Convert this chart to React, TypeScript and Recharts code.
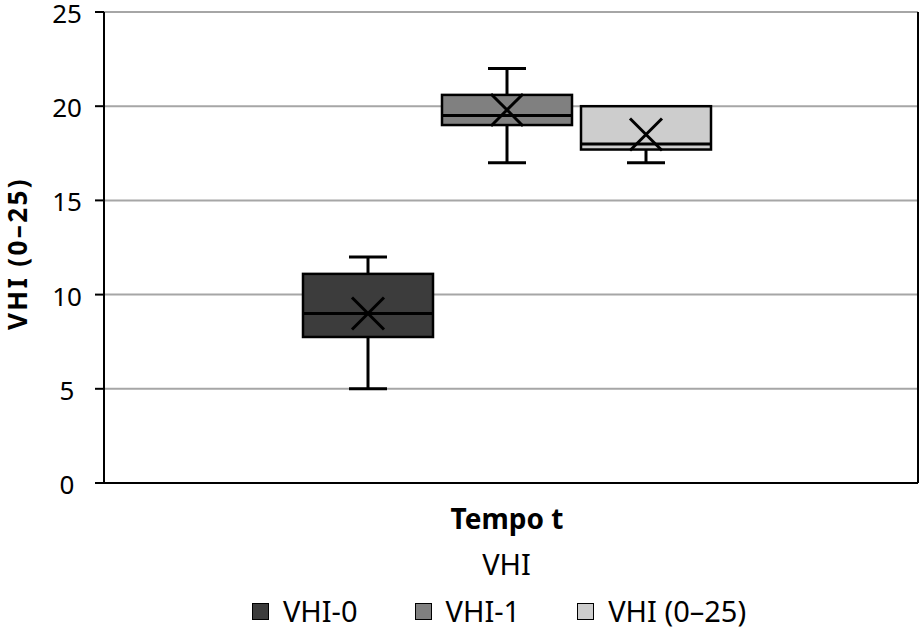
import React from 'react';
import { ComposedChart, Bar, XAxis, YAxis, CartesianGrid, Label } from 'recharts';

// Box plot stats
const seriesNames = ['VHI-0', 'VHI-1', 'VHI (0–25)'];
const mins = [5, 17, 17];
const q1s = [7.75, 19, 17.7];
const medians = [9, 19.5, 18];
const q3s = [11.1, 20.6, 20];
const maxs = [12, 22, 20];
const means = [9, 19.8, 18.5];
const category = 'VHI';
const yTicks = [0, 5, 10, 15, 20, 25];

const colors = ['#3c3c3c', '#808080', '#cdcdcd'];
const FONT = '"Noto Sans", "Open Sans", sans-serif';

// one row, each series is a [min, max] range bar
const data = [
    seriesNames.reduce((row: any, _n, i) => {
        row['s' + i] = [mins[i], maxs[i]];
        return row;
    }, { name: category }),
];

const BoxShape = (props: any) => {
    const { x, y, width, height, idx } = props;
    if (height == null || !isFinite(height)) return null;
    const lo = mins[idx];
    const hi = maxs[idx];
    const bottom = y + height;
    // linear map through the bar geometry the library computed
    const py = (v: number) => bottom - ((v - lo) / (hi - lo)) * height;
    const cx = x + width / 2;
    const cap = 19;
    const xs = 16;
    const mY = py(means[idx]);
    return (
        <g>
            <line x1={cx} x2={cx} y1={py(maxs[idx])} y2={py(q3s[idx])} stroke="#000" strokeWidth={3} />
            <line x1={cx} x2={cx} y1={py(q1s[idx])} y2={py(mins[idx])} stroke="#000" strokeWidth={3} />
            {maxs[idx] > q3s[idx] && (
                <line x1={cx - cap} x2={cx + cap} y1={py(maxs[idx])} y2={py(maxs[idx])} stroke="#000" strokeWidth={3} />
            )}
            <line x1={cx - cap} x2={cx + cap} y1={py(mins[idx])} y2={py(mins[idx])} stroke="#000" strokeWidth={3} />
            <rect
                x={x}
                y={py(q3s[idx])}
                width={width}
                height={py(q1s[idx]) - py(q3s[idx])}
                fill={colors[idx]}
                stroke="#000"
                strokeWidth={2.5}
            />
            <line x1={x} x2={x + width} y1={py(medians[idx])} y2={py(medians[idx])} stroke="#000" strokeWidth={3} />
            <line x1={cx - xs} x2={cx + xs} y1={mY - xs} y2={mY + xs} stroke="#000" strokeWidth={3} />
            <line x1={cx - xs} x2={cx + xs} y1={mY + xs} y2={mY - xs} stroke="#000" strokeWidth={3} />
        </g>
    );
};

const LegendRow = () => (
    <div
        style={{
            position: 'absolute',
            left: 38,
            top: 593,
            width: 922,
            display: 'flex',
            justifyContent: 'center',
            gap: 57,
            fontFamily: FONT,
            fontSize: 29,
            lineHeight: '36px',
            color: '#000',
        }}
    >
        {seriesNames.map((n, i) => (
            <div key={n} style={{ display: 'flex', alignItems: 'center' }}>
                <span
                    style={{
                        display: 'inline-block',
                        width: 15,
                        height: 15,
                        background: colors[i],
                        border: '1.5px solid #000',
                        marginRight: 14,
                    }}
                />
                <span>{n}</span>
            </div>
        ))}
    </div>
);

const XTick = (props: any) => {
    const { x, y, payload } = props;
    return (
        <text x={x} y={y + 72} textAnchor="middle" dominantBaseline="central" fontSize={29} fill="#000" fontFamily={FONT}>
            {payload.value}
        </text>
    );
};

const YTick = (props: any) => {
    const { y, payload } = props;
    return (
        <text x={67} y={y + 1} textAnchor="middle" dominantBaseline="central" fontSize={26} fill="#000" fontFamily={FONT}>
            {payload.value}
        </text>
    );
};

const App = () => {
    return (
        <div style={{ position: 'absolute', left: 0, top: 0, width: 922, height: 630, background: '#fff' }}>
            <ComposedChart
                width={922}
                height={630}
                data={data}
                margin={{ top: 12, right: 2, left: 0, bottom: 0 }}
                barSize={130}
                barGap={9}
                style={{ fontFamily: FONT }}
            >
                <CartesianGrid vertical={false} stroke="#a6a6a6" strokeWidth={2} />
                <XAxis
                    dataKey="name"
                    height={147}
                    padding={{ left: 0, right: 9 }}
                    tickLine={false}
                    axisLine={{ stroke: '#000', strokeWidth: 2 }}
                    tick={<XTick />}
                >
                    <Label
                        content={(p: any) => {
                            const vb = p.viewBox;
                            return (
                                <text
                                    x={vb.x + vb.width / 2 - 4}
                                    y={vb.y + 35}
                                    textAnchor="middle"
                                    dominantBaseline="central"
                                    fontSize={28}
                                    fontWeight="bold"
                                    fill="#000"
                                    fontFamily={FONT}
                                >
                                    Tempo t
                                </text>
                            );
                        }}
                    />
                </XAxis>
                <XAxis xAxisId="top" orientation="top" dataKey="name" height={0} tick={false} tickLine={false} axisLine={{ stroke: '#000', strokeWidth: 2 }} />
                <YAxis
                    width={104}
                    domain={[0, 25]}
                    ticks={yTicks}
                    interval={0}
                    tickSize={9}
                    tickLine={{ stroke: '#000', strokeWidth: 2 }}
                    axisLine={{ stroke: '#000', strokeWidth: 2 }}
                    tick={<YTick />}
                >
                    <Label
                        content={(p: any) => {
                            const vb = p.viewBox;
                            const cy = vb.y + vb.height / 2 + 6;
                            return (
                                <text
                                    x={17}
                                    y={cy}
                                    transform={`rotate(-90, 17, ${cy})`}
                                    textAnchor="middle"
                                    dominantBaseline="central"
                                    fontSize={26}
                                    fontWeight="bold"
                                    letterSpacing={2.4}
                                    fill="#000"
                                    fontFamily={FONT}
                                >
                                    VHI (0–25)
                                </text>
                            );
                        }}
                    />
                </YAxis>
                <YAxis yAxisId="right" orientation="right" width={2} domain={[0, 25]} tick={false} tickLine={false} axisLine={{ stroke: '#000', strokeWidth: 2 }} />
                {seriesNames.map((n, i) => (
                    <Bar
                        key={n}
                        dataKey={'s' + i}
                        name={n}
                        fill={colors[i]}
                        isAnimationActive={false}
                        shape={(p: any) => <BoxShape {...p} idx={i} />}
                    />
                ))}
            </ComposedChart>
            <LegendRow />
        </div>
    );
};

export default App;
